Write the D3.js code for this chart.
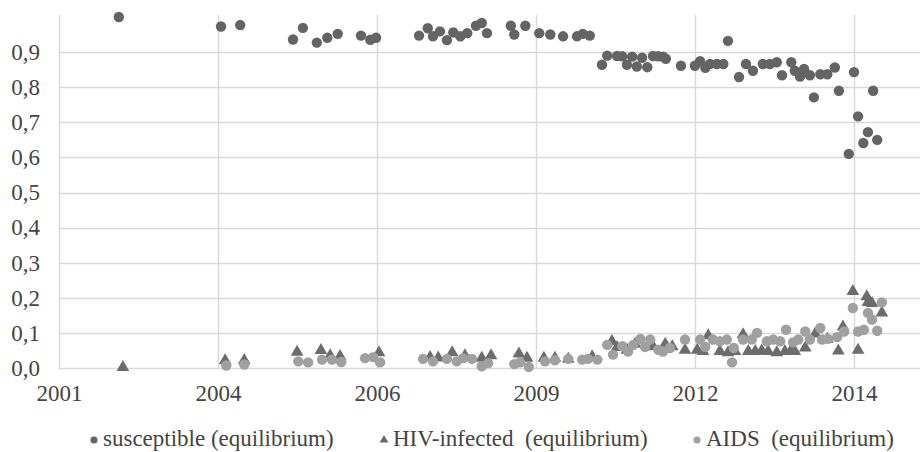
<!DOCTYPE html>
<html>
  <head>
    <meta charset="utf-8">
    <title>Equilibrium shares</title>
    <script src="https://d3js.org/d3.v7.min.js"></script>
    <style>
      body { margin: 0; background: #fff; }
      svg { display: block; }
      .lbl { font-family: "Liberation Serif", "Times New Roman", serif; font-size: 23px; fill: #444; }
    </style>
  </head>
  <body>
    <div class="chart"></div>
    <script>
      // x axis: date axis, ticks every 1000 days, labelled by year
      var tickStart = 2001.28, tickStep = 2.738;
      var xTickLabels = ["2001", "2004", "2006", "2009", "2012", "2014"];
      var yTickValues = [0, 0.1, 0.2, 0.3, 0.4, 0.5, 0.6, 0.7, 0.8, 0.9];

      var seriesNames = ["susceptible (equilibrium)", "HIV-infected  (equilibrium)", "AIDS  (equilibrium)"];

      // [year, share]
      var susceptible = [
        [2002.31, 1.0], [2004.07, 0.973], [2004.40, 0.977], [2005.31, 0.936], [2005.48, 0.969],
        [2005.72, 0.927], [2005.90, 0.941], [2006.08, 0.952], [2006.48, 0.947], [2006.64, 0.935],
        [2006.74, 0.941], [2007.48, 0.947], [2007.63, 0.968], [2007.72, 0.945], [2007.84, 0.959],
        [2007.96, 0.934], [2008.07, 0.956], [2008.19, 0.945], [2008.31, 0.954], [2008.46, 0.975],
        [2008.56, 0.983], [2008.65, 0.954], [2009.06, 0.975], [2009.12, 0.950], [2009.31, 0.975],
        [2009.55, 0.954], [2009.74, 0.950], [2009.96, 0.945], [2010.20, 0.945], [2010.30, 0.952],
        [2010.42, 0.947], [2010.63, 0.864], [2010.72, 0.890], [2010.89, 0.889], [2010.98, 0.888],
        [2011.06, 0.864], [2011.15, 0.887], [2011.23, 0.859], [2011.32, 0.884], [2011.41, 0.857],
        [2011.51, 0.889], [2011.60, 0.888], [2011.68, 0.887], [2011.73, 0.881], [2011.99, 0.861],
        [2012.23, 0.861], [2012.32, 0.874], [2012.41, 0.855], [2012.49, 0.866], [2012.61, 0.866],
        [2012.72, 0.866], [2012.80, 0.932], [2012.99, 0.829], [2013.11, 0.866], [2013.23, 0.847],
        [2013.40, 0.866], [2013.52, 0.866], [2013.64, 0.871], [2013.73, 0.834], [2013.89, 0.871],
        [2013.95, 0.847], [2014.04, 0.830], [2014.11, 0.852], [2014.21, 0.834], [2014.28, 0.771],
        [2014.39, 0.837], [2014.51, 0.837], [2014.64, 0.856], [2014.71, 0.790], [2014.88, 0.610],
        [2014.97, 0.843], [2015.04, 0.717], [2015.13, 0.641], [2015.21, 0.672], [2015.30, 0.790],
        [2015.37, 0.650]
      ];

      var hivInfected = [
        [2002.38, 0.005], [2004.14, 0.024], [2004.47, 0.025], [2005.38, 0.048], [2005.79, 0.053],
        [2005.95, 0.038], [2006.12, 0.036], [2006.79, 0.047], [2007.67, 0.033], [2007.81, 0.032],
        [2008.05, 0.047], [2008.27, 0.038], [2008.56, 0.031], [2008.72, 0.038], [2009.20, 0.043],
        [2009.34, 0.031], [2009.63, 0.031], [2009.82, 0.031], [2010.05, 0.028], [2010.46, 0.035],
        [2010.80, 0.079], [2010.89, 0.062], [2011.06, 0.054], [2011.20, 0.071], [2011.51, 0.064],
        [2011.72, 0.071], [2011.84, 0.064], [2012.06, 0.054], [2012.27, 0.054], [2012.37, 0.050],
        [2012.46, 0.095], [2012.66, 0.050], [2012.80, 0.047], [2012.92, 0.050], [2013.06, 0.098],
        [2013.15, 0.050], [2013.27, 0.050], [2013.38, 0.052], [2013.49, 0.050], [2013.64, 0.047],
        [2013.78, 0.050], [2013.88, 0.052], [2013.95, 0.050], [2014.13, 0.060], [2014.30, 0.100],
        [2014.51, 0.085], [2014.70, 0.052], [2014.78, 0.120], [2014.95, 0.221], [2015.04, 0.054],
        [2015.19, 0.206], [2015.21, 0.190], [2015.28, 0.187], [2015.45, 0.160]
      ];

      var aids = [
        [2004.16, 0.007], [2004.47, 0.010], [2005.40, 0.019], [2005.57, 0.016], [2005.81, 0.024],
        [2005.98, 0.024], [2006.14, 0.017], [2006.55, 0.028], [2006.69, 0.031], [2006.81, 0.016],
        [2007.55, 0.026], [2007.72, 0.019], [2007.96, 0.026], [2008.13, 0.019], [2008.24, 0.028],
        [2008.39, 0.026], [2008.56, 0.005], [2008.67, 0.014], [2009.12, 0.011], [2009.22, 0.016],
        [2009.37, 0.003], [2009.65, 0.019], [2009.82, 0.022], [2010.05, 0.026], [2010.29, 0.024],
        [2010.39, 0.026], [2010.55, 0.024], [2010.72, 0.066], [2010.82, 0.038], [2010.98, 0.062],
        [2011.08, 0.047], [2011.17, 0.066], [2011.29, 0.083], [2011.37, 0.060], [2011.46, 0.081],
        [2011.60, 0.052], [2011.68, 0.047], [2011.80, 0.057], [2012.06, 0.081], [2012.32, 0.081],
        [2012.41, 0.060], [2012.54, 0.081], [2012.66, 0.076], [2012.78, 0.081], [2012.87, 0.016],
        [2012.90, 0.057], [2013.06, 0.081], [2013.21, 0.081], [2013.30, 0.100], [2013.47, 0.076],
        [2013.58, 0.081], [2013.70, 0.076], [2013.80, 0.109], [2013.92, 0.073], [2014.01, 0.081],
        [2014.13, 0.104], [2014.21, 0.081], [2014.39, 0.114], [2014.42, 0.081], [2014.52, 0.083],
        [2014.68, 0.088], [2014.80, 0.104], [2014.95, 0.171], [2015.04, 0.104], [2015.14, 0.109],
        [2015.21, 0.157], [2015.28, 0.138], [2015.37, 0.106], [2015.45, 0.187]
      ];

      var W = 920, H = 452;
      var margin = { left: 59, right: 0, top: 17, bottom: 84 };

      var svg = d3.select(".chart").append("svg")
        .attr("width", W)
        .attr("height", H);

      svg.append("rect").attr("width", W).attr("height", H).attr("fill", "#fff");

      var xTicks = xTickLabels.map(function(d, i) { return tickStart + i * tickStep; });

      var x = d3.scaleLinear()
        .domain([tickStart, xTicks[xTicks.length - 1]])
        .range([margin.left, 854]);

      var y = d3.scaleLinear()
        .domain([0, 1])
        .range([H - margin.bottom, margin.top]);

      // horizontal gridlines
      svg.append("g")
        .selectAll("line")
        .data(yTickValues)
        .enter().append("line")
          .attr("x1", margin.left)
          .attr("x2", W)
          .attr("y1", function(d) { return Math.round(y(d)) + 0.5; })
          .attr("y2", function(d) { return Math.round(y(d)) + 0.5; })
          .attr("stroke", "#d9d9d9")
          .attr("stroke-width", 1.5);

      // vertical gridlines
      svg.append("g")
        .selectAll("line")
        .data(xTicks)
        .enter().append("line")
          .attr("x1", function(d) { return Math.round(x(d)) + 0.5; })
          .attr("x2", function(d) { return Math.round(x(d)) + 0.5; })
          .attr("y1", y(1) - 2)
          .attr("y2", y(0))
          .attr("stroke", "#d9d9d9")
          .attr("stroke-width", 1.5);

      // axes (labels only)
      var yAxis = d3.axisLeft(y)
        .tickValues(yTickValues)
        .tickSize(0)
        .tickPadding(19)
        .tickFormat(function(d) { return d3.format(".1f")(d).replace(".", ","); });

      svg.append("g")
        .attr("transform", "translate(" + margin.left + ",0)")
        .call(yAxis)
        .call(function(g) { g.select(".domain").remove(); })
        .selectAll("text")
          .attr("class", "lbl");

      var xAxis = d3.axisBottom(x)
        .tickValues(xTicks)
        .tickSize(0)
        .tickPadding(17)
        .tickFormat(function(d, i) { return xTickLabels[i]; });

      svg.append("g")
        .attr("transform", "translate(0," + y(0) + ")")
        .call(xAxis)
        .call(function(g) { g.select(".domain").remove(); })
        .selectAll("text")
          .attr("class", "lbl");

      // points
      var colors = ["#646464", "#6c6c6c", "#a0a0a0"];

      svg.append("g")
        .selectAll("circle")
        .data(susceptible)
        .enter().append("circle")
          .attr("cx", function(d) { return x(d[0]); })
          .attr("cy", function(d) { return y(d[1]); })
          .attr("r", 5.2)
          .attr("fill", colors[0]);

      var tri = d3.symbol().type(d3.symbolTriangle).size(70);

      svg.append("g")
        .selectAll("path")
        .data(hivInfected)
        .enter().append("path")
          .attr("d", tri)
          .attr("transform", function(d) { return "translate(" + x(d[0]) + "," + (y(d[1]) + 1) + ")"; })
          .attr("fill", colors[1]);

      svg.append("g")
        .selectAll("circle")
        .data(aids)
        .enter().append("circle")
          .attr("cx", function(d) { return x(d[0]); })
          .attr("cy", function(d) { return y(d[1]); })
          .attr("r", 5.2)
          .attr("fill", colors[2]);

      // legend
      var legendX = [94, 384, 697];
      var legendY = 440;

      var legend = svg.append("g")
        .selectAll("g")
        .data(seriesNames)
        .enter().append("g")
          .attr("transform", function(d, i) { return "translate(" + legendX[i] + "," + legendY + ")"; });

      legend.append("path")
        .attr("d", function(d, i) {
          return d3.symbol().type(i === 1 ? d3.symbolTriangle : d3.symbolCircle).size(i === 1 ? 34 : 40)();
        })
        .attr("fill", function(d, i) { return colors[i]; });

      legend.append("text")
        .attr("class", "lbl")
        .attr("x", 9)
        .attr("y", 6)
        .style("white-space", "pre")
        .text(function(d) { return d; });
    </script>
  </body>
</html>
